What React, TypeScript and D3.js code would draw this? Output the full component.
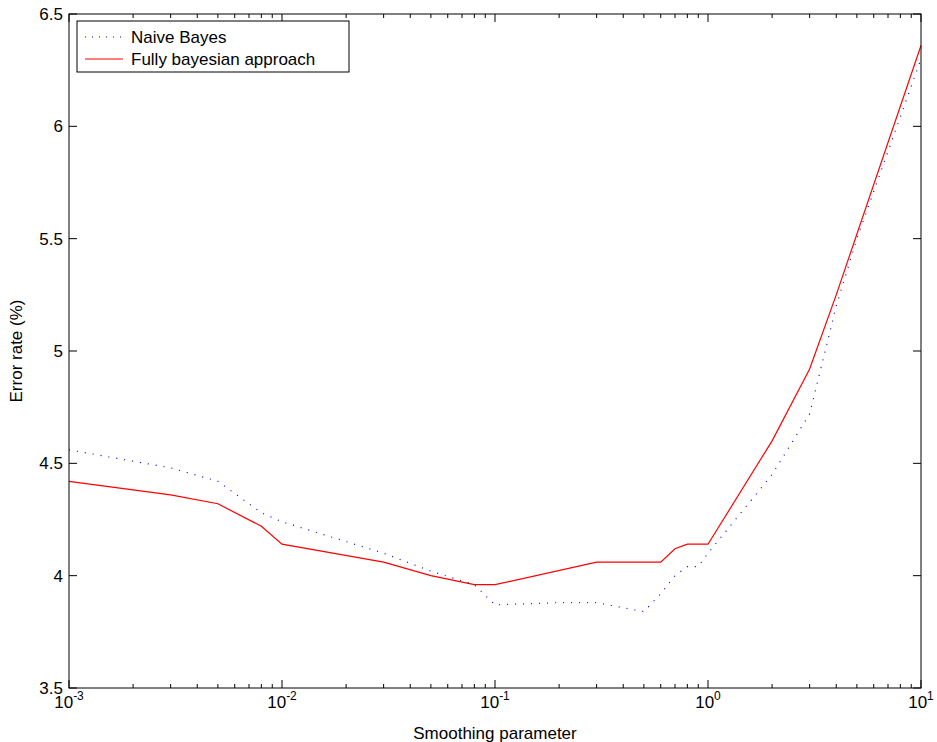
import React from "react";
import * as d3 from "d3";

const xsRed = [0.001, 0.003, 0.005, 0.008, 0.01, 0.03, 0.05, 0.08, 0.1, 0.3, 0.6, 0.7, 0.8, 1, 2, 3, 4, 10];
const valsRed = [4.42, 4.36, 4.32, 4.22, 4.14, 4.06, 4.0, 3.96, 3.96, 4.06, 4.06, 4.12, 4.14, 4.14, 4.6, 4.92, 5.25, 6.36];
const xsBlue = [0.001, 0.003, 0.005, 0.008, 0.01, 0.03, 0.05, 0.08, 0.1, 0.2, 0.3, 0.5, 0.6, 0.7, 0.8, 0.9, 1, 2, 3, 4, 5, 10];
const valsBlue = [4.56, 4.48, 4.42, 4.28, 4.24, 4.1, 4.02, 3.96, 3.87, 3.88, 3.88, 3.84, 3.92, 4.0, 4.04, 4.04, 4.1, 4.45, 4.72, 5.2, 5.5, 6.3];
const yTicks = [3.5, 4, 4.5, 5, 5.5, 6, 6.5];
const xTickExps = [-3, -2, -1, 0, 1];

export default function App() {
  const L = 69, R = 921, T = 14, B = 688;
  const x = d3.scaleLog().domain([0.001, 10]).range([L, R]);
  const y = d3.scaleLinear().domain([3.5, 6.5]).range([B, T]);
  const line = d3.line<[number, number]>().x(d => x(d[0])).y(d => y(d[1]));
  const red = line(xsRed.map((v, i) => [v, valsRed[i]]));
  const blue = line(xsBlue.map((v, i) => [v, valsBlue[i]]));
  const minor: number[] = [];
  for (let e = -3; e < 1; e++) for (let m = 2; m <= 9; m++) minor.push(m * Math.pow(10, e));
  const f = "Helvetica, Arial, 'Liberation Sans', sans-serif";
  return (
    <svg width={937} height={742} style={{ position: "absolute", left: 0, top: 0 }} fontFamily={f}>
      <rect width={937} height={742} fill="white" />
      <path d={red || ""} fill="none" stroke="red" strokeWidth={1.2} />
      <path d={blue || ""} fill="none" stroke="blue" strokeWidth={1.2} strokeDasharray="1,7" />
      <rect x={L} y={T} width={R - L} height={B - T} fill="none" stroke="black" strokeWidth={1} />
      {yTicks.map(t => (
        <g key={t}>
          <line x1={L} x2={L + 8} y1={y(t)} y2={y(t)} stroke="black" />
          <line x1={R} x2={R - 8} y1={y(t)} y2={y(t)} stroke="black" />
          <text x={L - 6} y={y(t) + 6} textAnchor="end" fontSize={17}>{t}</text>
        </g>
      ))}
      {xTickExps.map(e => {
        const px = x(Math.pow(10, e));
        return (
          <g key={e}>
            <line x1={px} x2={px} y1={B} y2={B - 8} stroke="black" />
            <line x1={px} x2={px} y1={T} y2={T + 8} stroke="black" />
            <text x={px} y={B + 20} textAnchor="middle" fontSize={17}>10<tspan dy={-8} fontSize={12}>{e}</tspan></text>
          </g>
        );
      })}
      {minor.map(m => (
        <g key={m}>
          <line x1={x(m)} x2={x(m)} y1={B} y2={B - 4} stroke="black" />
          <line x1={x(m)} x2={x(m)} y1={T} y2={T + 4} stroke="black" />
        </g>
      ))}
      <text x={(L + R) / 2} y={739} textAnchor="middle" fontSize={17}>Smoothing parameter</text>
      <text transform={`translate(22,${(T + B) / 2}) rotate(-90)`} textAnchor="middle" fontSize={17}>Error rate (%)</text>
      <rect x={77} y={21} width={272} height={51} fill="white" stroke="black" />
      <line x1={85} x2={123} y1={37} y2={37} stroke="blue" strokeWidth={1.2} strokeDasharray="1,6" />
      <text x={131} y={43} fontSize={17}>Naive Bayes</text>
      <line x1={85} x2={123} y1={59} y2={59} stroke="red" strokeWidth={1.2} />
      <text x={131} y={65} fontSize={17}>Fully bayesian approach</text>
    </svg>
  );
}
